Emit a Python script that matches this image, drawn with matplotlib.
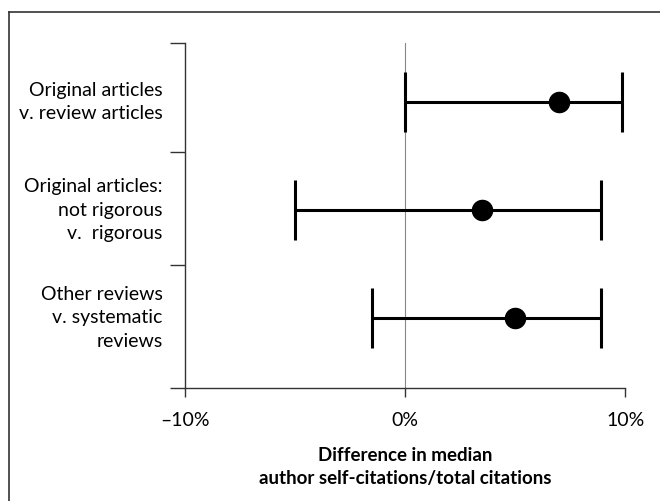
import matplotlib
matplotlib.use("Agg")
import matplotlib.pyplot as plt
from matplotlib.lines import Line2D
from matplotlib.ticker import FuncFormatter

# comparisons, top to bottom
labels = [
    "Original articles\nv. review articles",
    "Original articles:\nnot rigorous\nv.  rigorous",
    "Other reviews\nv. systematic\nreviews",
]
estimate = [7.0, 3.5, 5.0]
ci_low = [0.0, -5.0, -1.5]
ci_high = [9.85, 8.9, 8.9]
x_ticks = [-10, 0, 10]

plt.rcParams["font.family"] = ["Lato", "DejaVu Sans"]

fig = plt.figure(figsize=(6.6, 5.01), dpi=100)
ax = fig.add_axes([0.2803, 0.2255, 0.667, 0.6886])

rows = [3, 2, 1]
for y, est, lo, hi in zip(rows, estimate, ci_low, ci_high):
    ax.errorbar(
        est, y,
        xerr=[[est - lo], [hi - est]],
        fmt="o", color="black", ecolor="black",
        markersize=14.5, elinewidth=2.2, capsize=21.5, capthick=2.2,
        zorder=3,
    )

ax.axvline(0, color="#888888", linewidth=0.8, zorder=1)

ax.set_xlim(-10, 10)
ax.set_ylim(0.35, 3.55)

ax.set_xticks(x_ticks)
ax.xaxis.set_major_formatter(
    FuncFormatter(lambda v, p: f"{int(v)}%".replace("-", "\u2013"))
)
ax.tick_params(axis="x", direction="out", length=6.5, width=1.0,
               color="#333333", labelsize=14, pad=11)

ax.set_yticks(rows)
ax.set_yticklabels(labels, fontsize=14, linespacing=1.45)
for lab in ax.get_yticklabels():
    lab.set_verticalalignment("center")
ax.tick_params(axis="y", which="major", length=0, pad=16)
ax.set_yticks([0.35, 1.49, 2.54, 3.55], minor=True)
ax.tick_params(axis="y", which="minor", direction="out", length=11,
               width=1.0, color="#333333")

for side in ["top", "right"]:
    ax.spines[side].set_visible(False)
for side in ["left", "bottom"]:
    ax.spines[side].set_color("#333333")
    ax.spines[side].set_linewidth(1.0)

ax.set_xlabel("Difference in median\nauthor self-citations/total citations",
              fontsize=13.5, fontweight="bold", labelpad=13, linespacing=1.4)

# outer frame (top and left only)
fig.add_artist(Line2D([0.0136, 0.0136], [0.0, 0.976], color="#333333",
                      linewidth=1.2, transform=fig.transFigure))
fig.add_artist(Line2D([0.0136, 1.0], [0.976, 0.976], color="#333333",
                      linewidth=1.2, transform=fig.transFigure))

fig.savefig("out.png", dpi=100)
